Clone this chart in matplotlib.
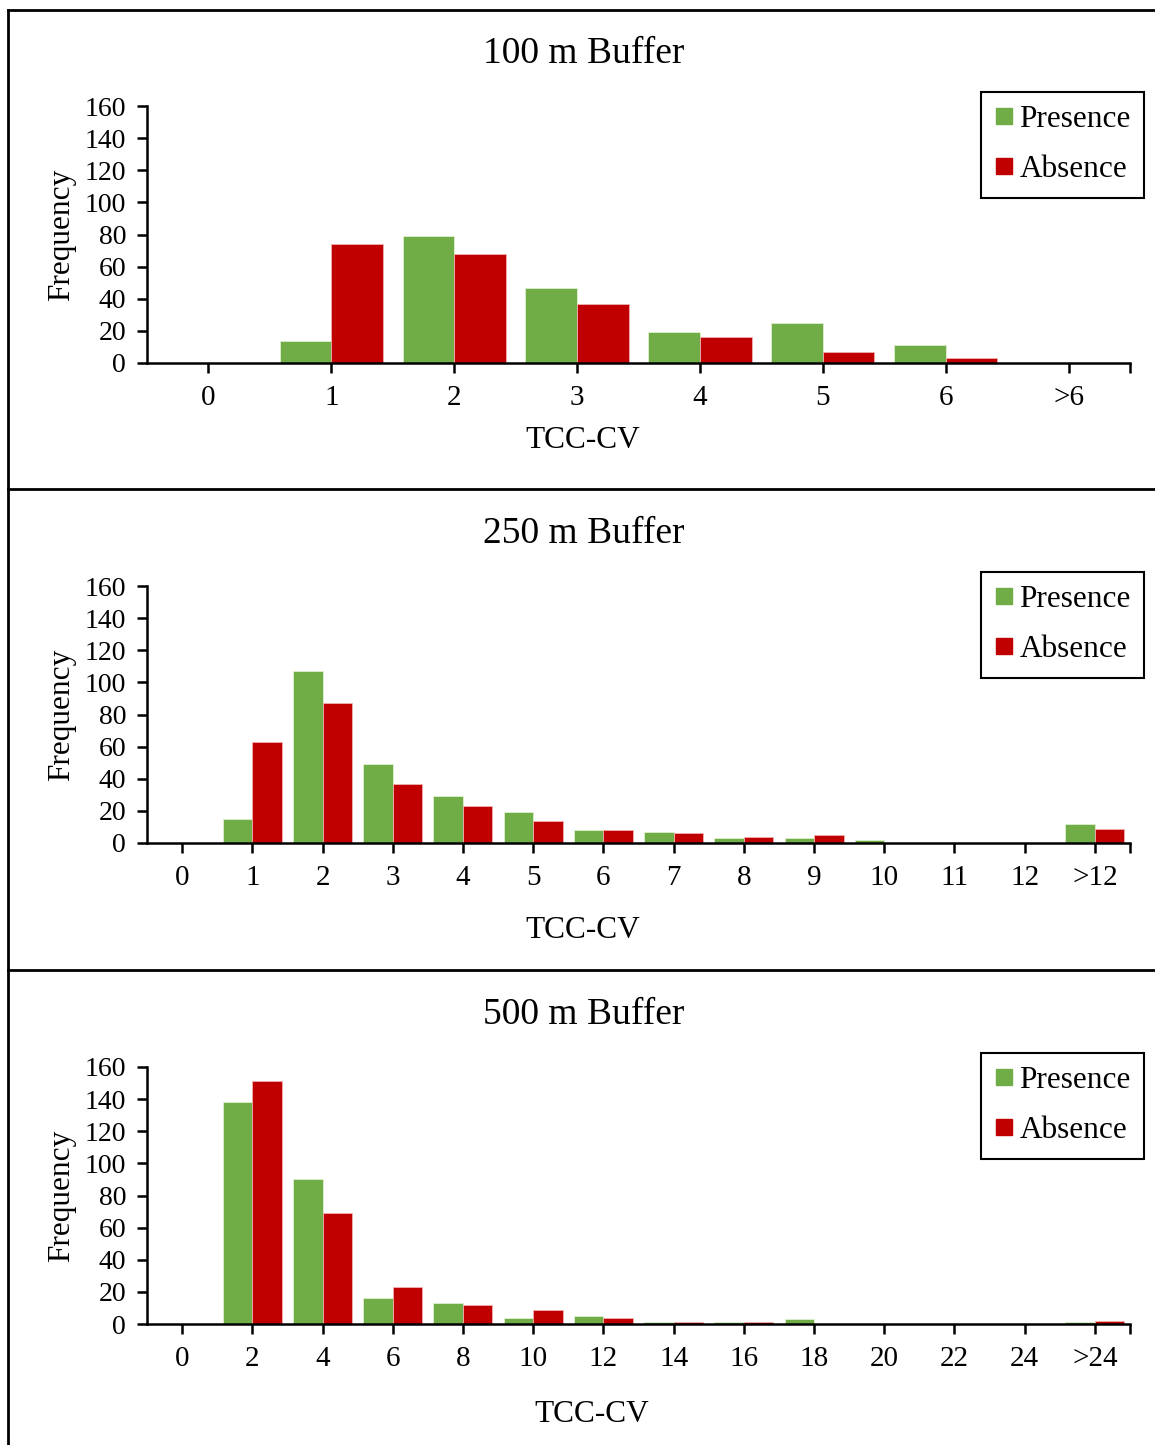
import matplotlib as mpl
mpl.use("Agg")
import matplotlib.pyplot as plt
import numpy as np
from matplotlib.lines import Line2D

plt.rcParams['font.family'] = ['Liberation Serif', 'DejaVu Serif']

# frequency tables for the three buffer sizes
labels_100 = ["0", "1", "2", "3", "4", "5", "6", ">6"]
presence_100 = [0, 14, 79, 47, 19, 25, 11, 0]
absence_100 = [0, 74, 68, 37, 16, 7, 3, 0]

labels_250 = ["0", "1", "2", "3", "4", "5", "6", "7", "8", "9", "10", "11", "12", ">12"]
presence_250 = [0, 15, 107, 49, 29, 19, 8, 7, 3, 3, 2, 0, 0, 12]
absence_250 = [0, 63, 87, 37, 23, 14, 8, 6, 4, 5, 0, 0, 0, 9]

labels_500 = ["0", "2", "4", "6", "8", "10", "12", "14", "16", "18", "20", "22", "24", ">24"]
presence_500 = [0, 138, 90, 16, 13, 4, 5, 1, 1, 3, 0, 0, 0, 1]
absence_500 = [0, 151, 69, 23, 12, 9, 4, 1, 1, 0, 0, 0, 0, 2]

GREEN = "#70AD47"
RED = "#C00000"
W, H = 1155, 1445

fig = plt.figure(figsize=(W / 100, H / 100), dpi=100)


def px_box(x0, y0, x1, y1):
    return [x0 / W, 1 - y1 / H, (x1 - x0) / W, (y1 - y0) / H]


panels = [
    ("100 m Buffer", labels_100, presence_100, absence_100, 0, 583, 440),
    ("250 m Buffer", labels_250, presence_250, absence_250, 480, 583, 451),
    ("500 m Buffer", labels_500, presence_500, absence_500, 961, 592, 453),
]

bw = 0.42
for title, labels, pres, absn, dy, xlab_x, xlab_y in panels:
    ax = fig.add_axes(px_box(147, 106 + dy, 1130, 363 + dy))
    x = np.arange(len(labels))
    ax.bar(x - bw / 2, pres, bw, color=GREEN, edgecolor="#dff0d0", linewidth=0.6,
           label="Presence", zorder=2)
    ax.bar(x + bw / 2, absn, bw, color=RED, edgecolor="#f0b0b0", linewidth=0.6,
           label="Absence", zorder=2)
    ax.set_xlim(-0.5, len(labels) - 0.5)
    ax.set_ylim(0, 160)
    ax.set_yticks(range(0, 161, 20))
    ax.set_xticks(list(x) + [len(labels) - 0.5])
    ax.set_xticklabels(labels + [""])
    for s in ("top", "right"):
        ax.spines[s].set_visible(False)
    for s in ("left", "bottom"):
        ax.spines[s].set_linewidth(1.8)
        ax.spines[s].set_zorder(3)
    ax.tick_params(axis="both", direction="out", length=7, width=1.8,
                   labelsize=20)
    ax.tick_params(axis="x", pad=9, labelsize=21)
    ax.tick_params(axis="y", pad=8)

    fig.text(584 / W, 1 - (54 + dy) / H, title, ha="center", va="center", fontsize=27)
    fig.text(xlab_x / W, 1 - (xlab_y + dy) / H, "TCC-CV",
             ha="center", va="center", fontsize=22.5)
    fig.text(62 / W, 1 - (235 + dy) / H, "Frequency", ha="center", va="center",
             rotation=90, fontsize=22.5)

    handles = [Line2D([], [], marker="s", linestyle="none", markersize=11,
                      color=GREEN),
               Line2D([], [], marker="s", linestyle="none", markersize=11,
                      color=RED)]
    leg = fig.legend(handles, ["Presence", "Absence"], loc="upper right",
                     bbox_to_anchor=(1144 / W, 1 - (92 + dy) / H),
                     fontsize=22.5, frameon=True, fancybox=False,
                     edgecolor="black", framealpha=1, handlelength=0.6,
                     handletextpad=0.2, labelspacing=0.68, borderpad=0.42,
                     borderaxespad=0)
    leg.get_frame().set_linewidth(1.5)

# panel frames
frame_kw = dict(color="black", linewidth=2, transform=fig.transFigure)
fig.add_artist(Line2D([8 / W, 1], [1 - 10 / H] * 2, **frame_kw))
fig.add_artist(Line2D([8 / W, 8 / W], [1 - 10 / H, 0], **frame_kw))
fig.add_artist(Line2D([8 / W, 1], [1 - 489 / H] * 2, **frame_kw))
fig.add_artist(Line2D([8 / W, 1], [1 - 970 / H] * 2, **frame_kw))

fig.savefig("out.png", dpi=100)
